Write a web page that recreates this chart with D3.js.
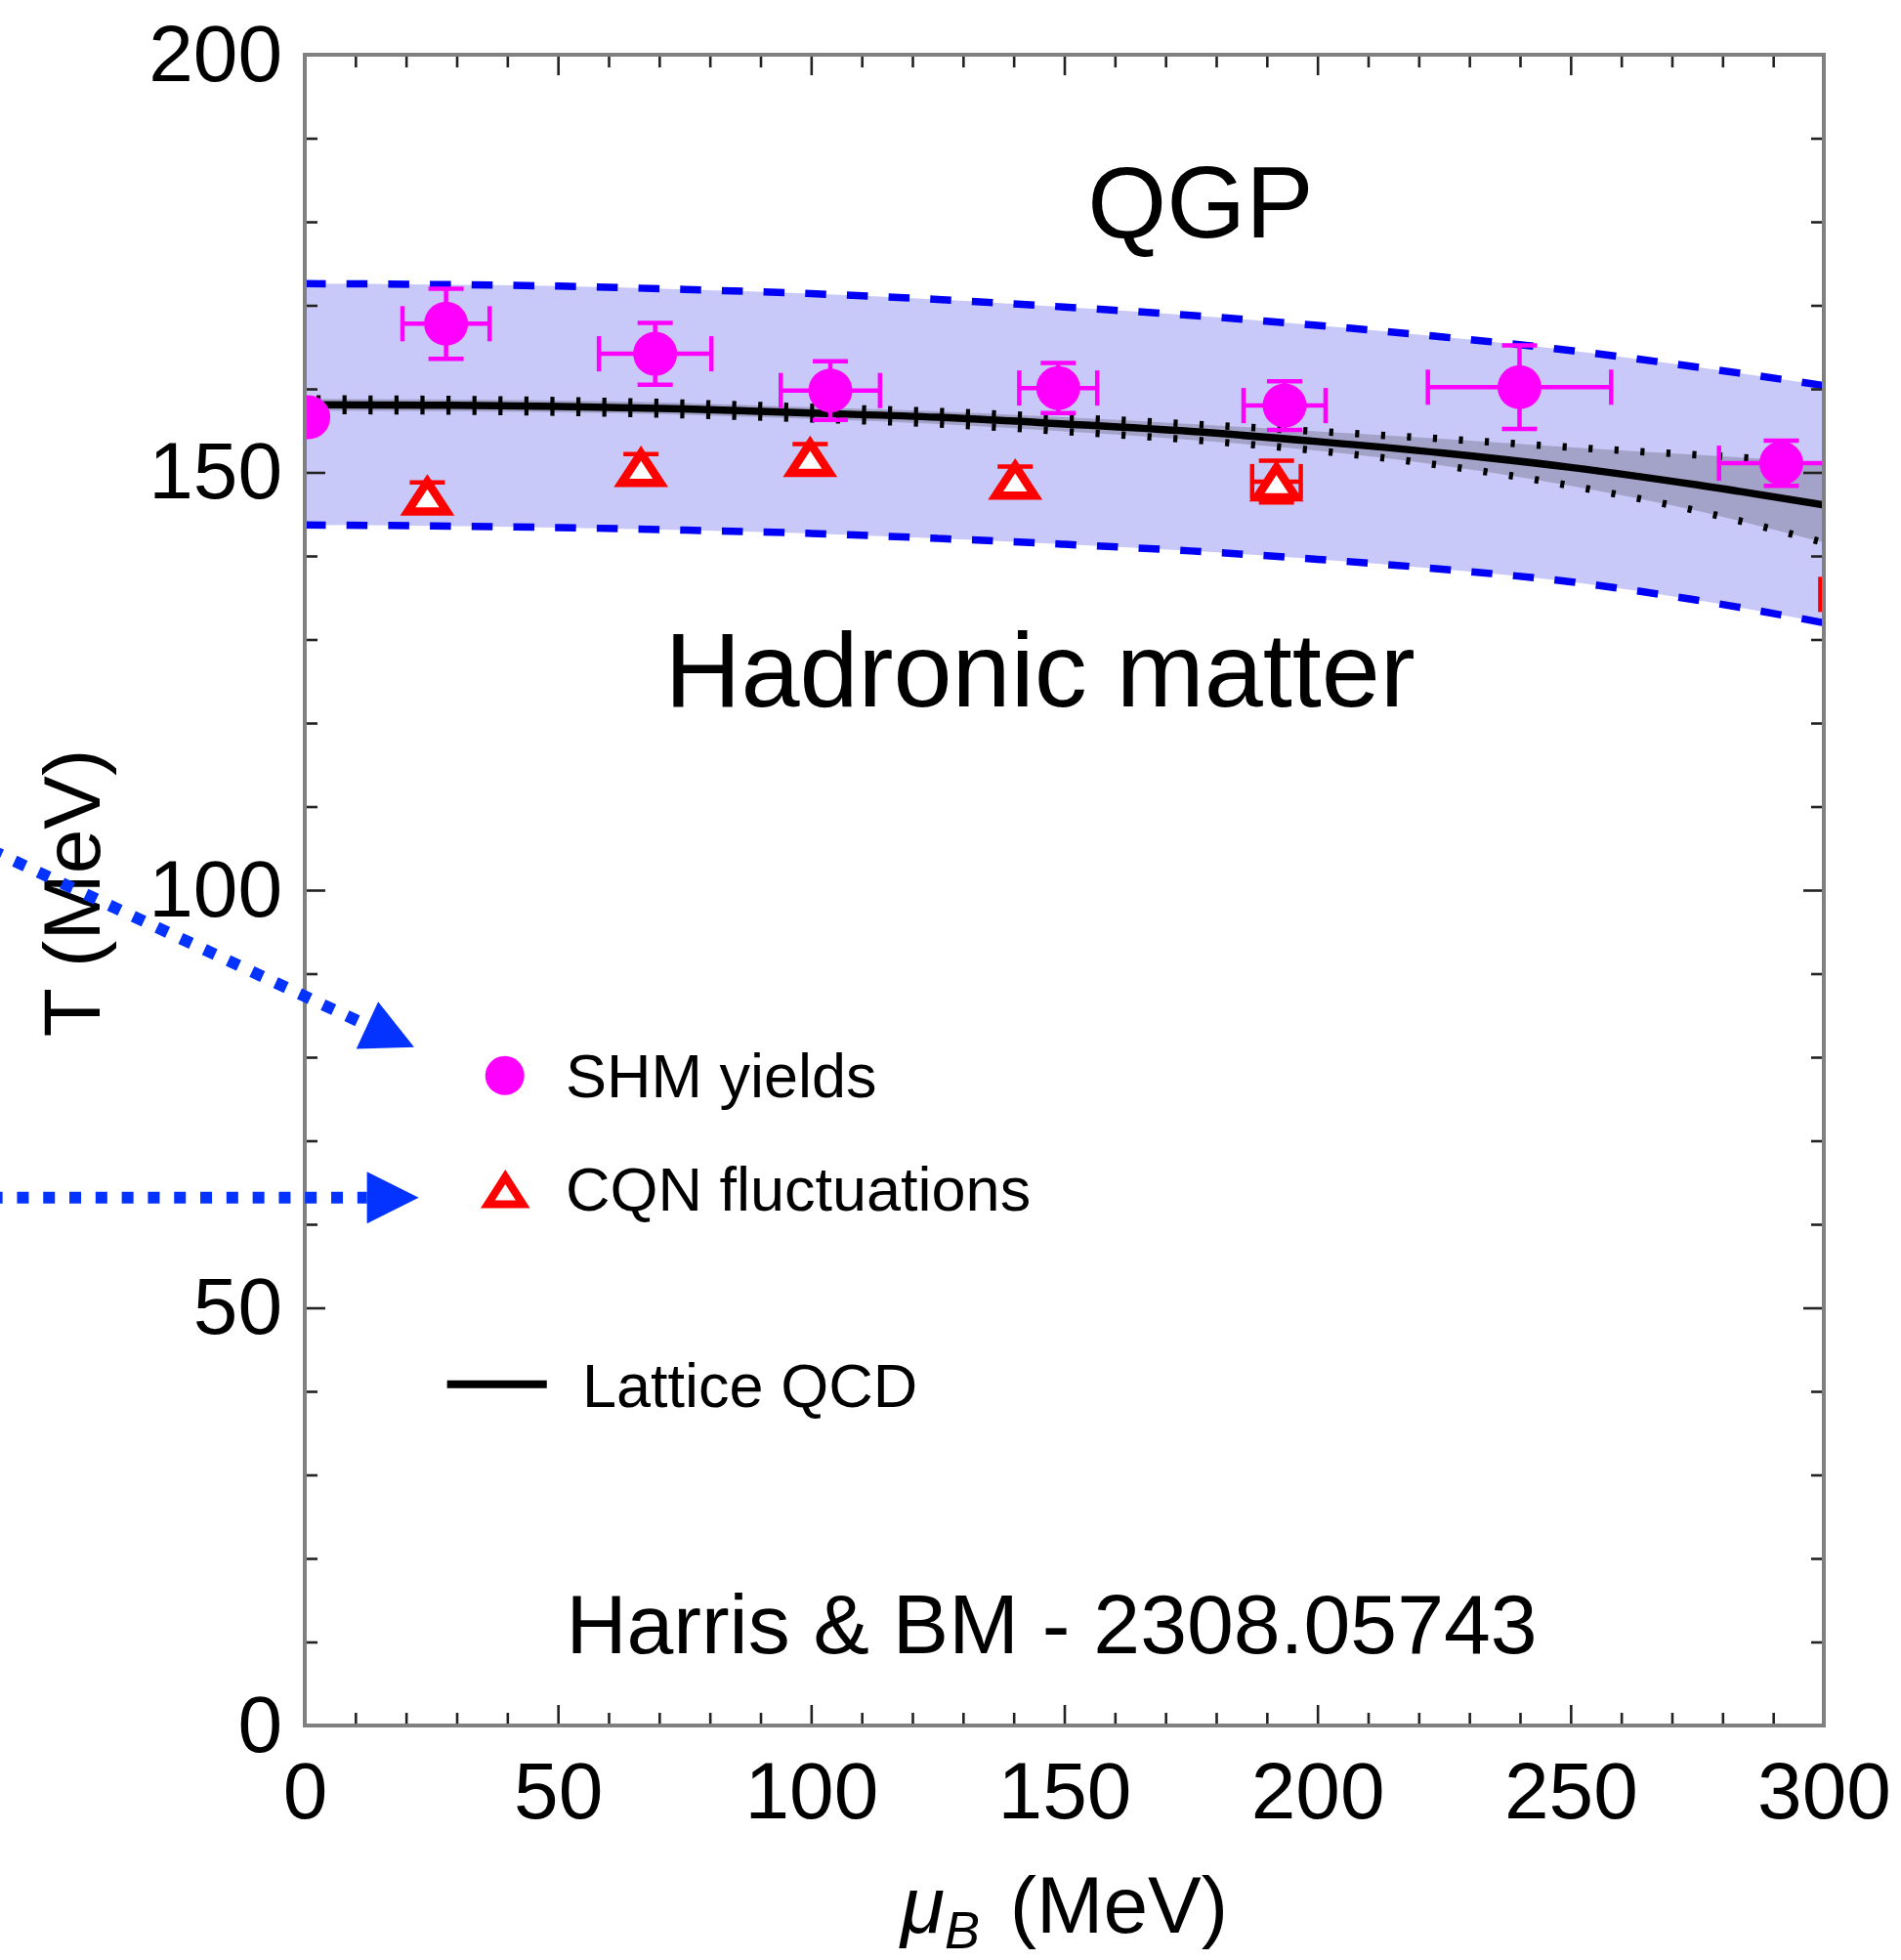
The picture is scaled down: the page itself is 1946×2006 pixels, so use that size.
<!DOCTYPE html>
<html><head><meta charset="utf-8">
<script src="https://cdn.jsdelivr.net/npm/d3@7"></script>
<style>
body{margin:0;background:#fff;}
svg{display:block;font-family:"Liberation Sans",Arial,Helvetica,sans-serif;}
</style>
</head><body>
<svg id="chart" width="1946" height="2006"></svg>
<script>
// ---------------- data ----------------
const muGrid        = [0, 25, 50, 75, 100, 125, 150, 175, 200, 225, 250, 275, 300];
const bandUpperT    = [172.6,172.5,172.3,171.9,171.4,170.7,169.8,168.8,167.6,166.2,164.6,162.6,160.4];
const bandLowerT    = [143.7,143.6,143.4,143.1,142.7,142.1,141.4,140.6,139.6,138.4,136.9,134.7,132.0];
const latticeT      = [158.1,158.05,157.9,157.6,157.1,156.6,155.8,154.9,153.7,152.3,150.6,148.5,146.1];
const latticeUpperT = [158.8,158.75,158.6,158.3,157.8,157.3,156.6,155.8,154.9,154.0,153.0,152.1,151.2];
const latticeLowerT = [157.4,157.35,157.2,156.9,156.4,155.8,154.9,153.9,152.6,150.8,148.4,145.4,141.6];

const shmMu    = [0.7, 27.9, 69.2, 103.8, 148.8, 193.5, 239.9, 291.6];
const shmT     = [156.6, 167.8, 164.2, 159.8, 160.1, 158.0, 160.2, 151.1];
const shmMuErr = [0, 8.6, 11.1, 9.8, 7.7, 8.1, 18.1, 12.3];
const shmTErr  = [0, 4.2, 3.7, 3.5, 3.0, 2.9, 5.0, 2.7];

const cqnMu    = [24.2, 66.4, 99.8, 140.3, 191.9, 321.3];
const cqnT     = [147.2, 150.6, 151.8, 149.1, 148.9, 135.4];
const cqnMuErr = [0, 0, 0, 0, 4.8, 22];
const cqnTErr  = [1.6, 1.6, 1.6, 1.6, 2.5, 0];

const xMajorTicks = [0, 50, 100, 150, 200, 250, 300];
const yMajorTicks = [0, 50, 100, 150, 200];
const xMinorTicks = d3.range(0, 301, 10).filter(v => v % 50 !== 0);
const yMinorTicks = d3.range(0, 201, 10).filter(v => v % 50 !== 0);

const legendLabels = ["SHM yields", "CQN fluctuations", "Lattice QCD"];
const regionLabels = ["QGP", "Hadronic matter"];
const creditLabel = "Harris & BM - 2308.05743";

// annotation arrows (data units)
const arrowFromMu = [-62, -62];
const arrowFromT  = [104.8, 63.2];
const arrowToMu   = [21.6, 22.5];
const arrowToT    = [81.2, 63.2];

// ---------------- layout ----------------
const L = 312, R = 1867, T = 56, B = 1766;
const svg = d3.select("#chart");
const x = d3.scaleLinear().domain([0, 300]).range([L, R]);
const y = d3.scaleLinear().domain([0, 200]).range([B, T]);

svg.append("defs").append("clipPath").attr("id", "plotclip")
  .append("rect").attr("x", L).attr("y", T).attr("width", R - L).attr("height", B - T);

const plot = svg.append("g").attr("clip-path", "url(#plotclip)");

const idx = d3.range(muGrid.length);
const area = (up, lo) => d3.area().curve(d3.curveMonotoneX)
  .x(i => x(muGrid[i])).y0(i => y(lo[i])).y1(i => y(up[i]));
const line = arr => d3.line().curve(d3.curveMonotoneX)
  .x(i => x(muGrid[i])).y(i => y(arr[i]));

// blue band
plot.append("path").attr("d", area(bandUpperT, bandLowerT)(idx)).attr("fill", "#c9c9f9");
// lattice uncertainty band
plot.append("path").attr("d", area(latticeUpperT, latticeLowerT)(idx)).attr("fill", "#a3a3c9");
// dashed band edges
[bandUpperT, bandLowerT].forEach(arr => {
  plot.append("path").attr("d", line(arr)(idx)).attr("fill", "none")
    .attr("stroke", "#0000f6").attr("stroke-width", 7.5).attr("stroke-dasharray", "21.5,21.2");
});
// lattice line
plot.append("path").attr("d", line(latticeT)(idx)).attr("fill", "none")
  .attr("stroke", "#000").attr("stroke-width", 7.5);
// dotted lattice edges
[latticeUpperT, latticeLowerT].forEach(arr => {
  plot.append("path").attr("d", line(arr)(idx)).attr("fill", "none")
    .attr("stroke", "#000").attr("stroke-width", 7.5).attr("stroke-dasharray", "4.2,22.4")
    .attr("stroke-dashoffset", -12);
});

// error bars
const CAP = 18;
function errorBars(g, mus, ts, me, te, color) {
  mus.forEach((m, i) => {
    const cx = x(m), cy = y(ts[i]);
    if (me[i] > 0) {
      const x0 = x(m - me[i]), x1 = x(m + me[i]);
      g.append("line").attr("x1", x0).attr("x2", x1).attr("y1", cy).attr("y2", cy)
        .attr("stroke", color).attr("stroke-width", 4.5);
      [x0, x1].forEach(xx => g.append("line").attr("x1", xx).attr("x2", xx)
        .attr("y1", cy - CAP).attr("y2", cy + CAP).attr("stroke", color).attr("stroke-width", 4.5));
    }
    if (te[i] > 0) {
      const y0 = y(ts[i] + te[i]), y1 = y(ts[i] - te[i]);
      g.append("line").attr("x1", cx).attr("x2", cx).attr("y1", y0).attr("y2", y1)
        .attr("stroke", color).attr("stroke-width", 4.5);
      [y0, y1].forEach(yy => g.append("line").attr("y1", yy).attr("y2", yy)
        .attr("x1", cx - CAP).attr("x2", cx + CAP).attr("stroke", color).attr("stroke-width", 4.5));
    }
  });
}
errorBars(plot, cqnMu, cqnT, cqnMuErr, cqnTErr, "#ff0000");
errorBars(plot, shmMu, shmT, shmMuErr, shmTErr, "#ff00ff");

const triPath = "M0,-14.5 L20,16 L-20,16 Z";
plot.selectAll("path.cqn").data(cqnMu).join("path").attr("class", "cqn")
  .attr("d", triPath)
  .attr("transform", (m, i) => `translate(${x(m)},${y(cqnT[i])})`)
  .attr("fill", "#fff").attr("stroke", "#ff0000").attr("stroke-width", 8.5)
  .attr("stroke-linejoin", "miter");
plot.selectAll("circle.shm").data(shmMu).join("circle").attr("class", "shm")
  .attr("cx", m => x(m)).attr("cy", (m, i) => y(shmT[i])).attr("r", 22.5)
  .attr("fill", "#ff00ff");

// ---------------- frame & ticks ----------------
const tickColor = "#222";
function styleTicks(g) {
  g.select(".domain").remove();
  g.selectAll(".tick line").attr("stroke", tickColor).attr("stroke-width", 2.6);
  g.selectAll("text").attr("font-size", 82).attr("fill", "#000")
    .attr("font-family", "Liberation Sans, Arial, sans-serif");
  return g;
}
// bottom
styleTicks(svg.append("g").attr("transform", `translate(0,${B})`)
  .call(d3.axisBottom(x).tickValues(xMajorTicks).tickSizeInner(-21).tickSizeOuter(0).tickPadding(37).tickFormat(d3.format("d"))));
styleTicks(svg.append("g").attr("transform", `translate(0,${B})`)
  .call(d3.axisBottom(x).tickValues(xMinorTicks).tickSizeInner(-13).tickSizeOuter(0).tickFormat("")));
// top
[[xMajorTicks, 21], [xMinorTicks, 13]].forEach(([v, len]) => {
  styleTicks(svg.append("g").attr("transform", `translate(0,${T})`)
    .call(d3.axisTop(x).tickValues(v).tickSizeInner(-len).tickSizeOuter(0).tickFormat("")));
});
// left
styleTicks(svg.append("g").attr("transform", `translate(${L},0)`)
  .call(d3.axisLeft(y).tickValues(yMajorTicks).tickSizeInner(-21).tickSizeOuter(0).tickPadding(23).tickFormat(d3.format("d"))));
styleTicks(svg.append("g").attr("transform", `translate(${L},0)`)
  .call(d3.axisLeft(y).tickValues(yMinorTicks).tickSizeInner(-13).tickSizeOuter(0).tickFormat("")));
// right
[[yMajorTicks, 21], [yMinorTicks, 13]].forEach(([v, len]) => {
  styleTicks(svg.append("g").attr("transform", `translate(${R},0)`)
    .call(d3.axisRight(y).tickValues(v).tickSizeInner(-len).tickSizeOuter(0).tickFormat("")));
});
svg.append("rect").attr("x", L).attr("y", T).attr("width", R - L).attr("height", B - T)
  .attr("fill", "none").attr("stroke", "#808080").attr("stroke-width", 4);

// ---------------- axis titles ----------------
svg.append("text").attr("transform", `translate(102,914) rotate(-90)`)
  .attr("text-anchor", "middle").attr("font-size", 82).text("T (MeV)");
const xt = svg.append("text").attr("x", (L + R) / 2).attr("y", 1978)
  .attr("text-anchor", "middle").attr("font-size", 82);
xt.append("tspan").attr("font-style", "italic").text("μ");
xt.append("tspan").attr("font-style", "italic").attr("font-size", 54).attr("dy", 16).text("B");
xt.append("tspan").attr("dy", -16).attr("dx", 8).text(" (MeV)");

// ---------------- region labels ----------------
svg.append("text").attr("x", x(176.9)).attr("y", y(178.1)).attr("text-anchor", "middle")
  .attr("font-size", 104).text(regionLabels[0]);
svg.append("text").attr("x", x(145.2)).attr("y", y(122.0)).attr("text-anchor", "middle")
  .attr("font-size", 108).text(regionLabels[1]);
svg.append("text").attr("x", x(147.5)).attr("y", y(8.65)).attr("text-anchor", "middle")
  .attr("font-size", 86).text(creditLabel);

// ---------------- legend ----------------
svg.append("circle").attr("cx", x(39.5)).attr("cy", y(77.8)).attr("r", 20).attr("fill", "#ff00ff");
svg.append("path").attr("d", "M0,-13 L18,15 L-18,15 Z").attr("transform", `translate(${x(39.6)},${y(64.15)})`)
  .attr("fill", "#fff").attr("stroke", "#ff0000").attr("stroke-width", 8).attr("stroke-linejoin", "miter");
svg.append("line").attr("x1", x(28.1)).attr("x2", x(47.8)).attr("y1", y(40.85)).attr("y2", y(40.85))
  .attr("stroke", "#000").attr("stroke-width", 8);
svg.append("text").attr("x", x(51.5)).attr("y", y(75.2)).attr("font-size", 63).text(legendLabels[0]);
svg.append("text").attr("x", x(51.5)).attr("y", y(61.6)).attr("font-size", 63).text(legendLabels[1]);
svg.append("text").attr("x", x(54.8)).attr("y", y(38.1)).attr("font-size", 63).text(legendLabels[2]);

// ---------------- arrows ----------------
const arrowColor = "#0433ff";
arrowFromMu.forEach((m, i) => {
  const sx = x(m), sy = y(arrowFromT[i]);
  const tx = x(arrowToMu[i]), ty = y(arrowToT[i]);
  const dx = tx - sx, dy = ty - sy, len = Math.hypot(dx, dy);
  const ux = dx / len, uy = dy / len;
  const head = 53, hw = 26.5;
  const bx = tx - ux * head, by = ty - uy * head;
  svg.append("line").attr("x1", sx).attr("y1", sy).attr("x2", bx).attr("y2", by)
    .attr("stroke", arrowColor).attr("stroke-width", 12).attr("stroke-dasharray", "12,14.8");
  svg.append("path").attr("d", `M${tx},${ty} L${bx - uy * hw},${by + ux * hw} L${bx + uy * hw},${by - ux * hw} Z`)
    .attr("fill", arrowColor);
});
</script>
</body></html>
